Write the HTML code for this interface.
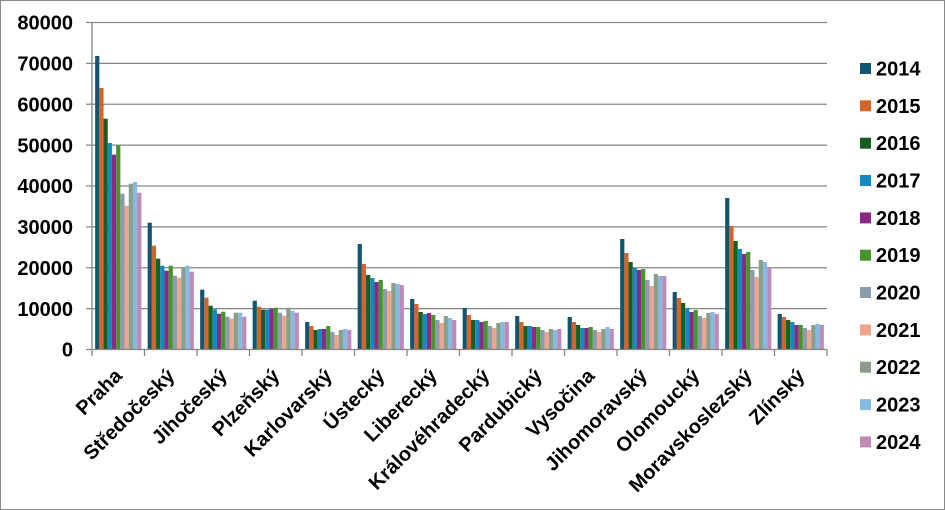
<!DOCTYPE html>
<html>
<head>
<meta charset="utf-8">
<style>
  html,body{margin:0;padding:0;background:#fff;}
  svg{display:block;}
  text{font-family:"Liberation Sans",Arial,sans-serif;font-weight:bold;fill:#000;}
  .c0{fill:#135470}.c1{fill:#d2642c}.c2{fill:#185e22}.c3{fill:#108bc2}
  .c4{fill:#8a2a84}.c5{fill:#46952a}.c6{fill:#8a9cad}.c7{fill:#eea48d}
  .c8{fill:#8a9e8a}.c9{fill:#85bbe0}.c10{fill:#bf8ab8}
</style>
</head>
<body>
<svg width="945" height="510" viewBox="0 0 945 510" xmlns="http://www.w3.org/2000/svg">
  <rect x="0.5" y="0.5" width="944" height="509" fill="#fff" stroke="#888" stroke-width="1"/>

  <!-- gridlines -->
  <g stroke="#868686" stroke-width="1.3">
    <line x1="86" y1="22.5" x2="827" y2="22.5"/>
    <line x1="86" y1="63.4" x2="827" y2="63.4"/>
    <line x1="86" y1="104.25" x2="827" y2="104.25"/>
    <line x1="86" y1="145.1" x2="827" y2="145.1"/>
    <line x1="86" y1="186" x2="827" y2="186"/>
    <line x1="86" y1="226.9" x2="827" y2="226.9"/>
    <line x1="86" y1="267.75" x2="827" y2="267.75"/>
    <line x1="86" y1="308.6" x2="827" y2="308.6"/>
  </g>

  <!-- y labels -->
  <g font-size="20" text-anchor="end">
    <text x="73" y="29.7">80000</text>
    <text x="73" y="70.6">70000</text>
    <text x="73" y="111.4">60000</text>
    <text x="73" y="152.3">50000</text>
    <text x="73" y="193.2">40000</text>
    <text x="73" y="234.1">30000</text>
    <text x="73" y="274.9">20000</text>
    <text x="73" y="315.8">10000</text>
    <text x="73" y="356.7">0</text>
  </g>

  <!-- bars -->
  <g transform="translate(95.15,349.5) scale(1,-1)">
    <rect class="c0" x="0" y="0" width="4.2" height="293.5"/>
    <rect class="c1" x="4.2" y="0" width="4.2" height="261.5"/>
    <rect class="c2" x="8.4" y="0" width="4.2" height="230.8"/>
    <rect class="c3" x="12.6" y="0" width="4.2" height="206.5"/>
    <rect class="c4" x="16.8" y="0" width="4.2" height="194.8"/>
    <rect class="c5" x="21" y="0" width="4.2" height="204.2"/>
    <rect class="c6" x="25.2" y="0" width="4.2" height="155.8"/>
    <rect class="c7" x="29.4" y="0" width="4.2" height="143.8"/>
    <rect class="c8" x="33.6" y="0" width="4.2" height="165.8"/>
    <rect class="c9" x="37.8" y="0" width="4.2" height="167.5"/>
    <rect class="c10" x="42" y="0" width="4.2" height="156.8"/>
  </g>
  <g transform="translate(147.65,349.5) scale(1,-1)">
    <rect class="c0" x="0" y="0" width="4.2" height="126.8"/>
    <rect class="c1" x="4.2" y="0" width="4.2" height="103.8"/>
    <rect class="c2" x="8.4" y="0" width="4.2" height="90.8"/>
    <rect class="c3" x="12.6" y="0" width="4.2" height="83.8"/>
    <rect class="c4" x="16.8" y="0" width="4.2" height="78.8"/>
    <rect class="c5" x="21" y="0" width="4.2" height="83.8"/>
    <rect class="c6" x="25.2" y="0" width="4.2" height="73.8"/>
    <rect class="c7" x="29.4" y="0" width="4.2" height="71.8"/>
    <rect class="c8" x="33.6" y="0" width="4.2" height="81.8"/>
    <rect class="c9" x="37.8" y="0" width="4.2" height="83.8"/>
    <rect class="c10" x="42" y="0" width="4.2" height="77.8"/>
  </g>
  <g transform="translate(200.15,349.5) scale(1,-1)">
    <rect class="c0" x="0" y="0" width="4.2" height="59.8"/>
    <rect class="c1" x="4.2" y="0" width="4.2" height="51.8"/>
    <rect class="c2" x="8.4" y="0" width="4.2" height="43.8"/>
    <rect class="c3" x="12.6" y="0" width="4.2" height="40.2"/>
    <rect class="c4" x="16.8" y="0" width="4.2" height="35.8"/>
    <rect class="c5" x="21" y="0" width="4.2" height="37.8"/>
    <rect class="c6" x="25.2" y="0" width="4.2" height="32.8"/>
    <rect class="c7" x="29.4" y="0" width="4.2" height="30.8"/>
    <rect class="c8" x="33.6" y="0" width="4.2" height="36.8"/>
    <rect class="c9" x="37.8" y="0" width="4.2" height="36.8"/>
    <rect class="c10" x="42" y="0" width="4.2" height="32.8"/>
  </g>
  <g transform="translate(252.65,349.5) scale(1,-1)">
    <rect class="c0" x="0" y="0" width="4.2" height="48.8"/>
    <rect class="c1" x="4.2" y="0" width="4.2" height="42.8"/>
    <rect class="c2" x="8.4" y="0" width="4.2" height="39.8"/>
    <rect class="c3" x="12.6" y="0" width="4.2" height="39.8"/>
    <rect class="c4" x="16.8" y="0" width="4.2" height="40.8"/>
    <rect class="c5" x="21" y="0" width="4.2" height="41.8"/>
    <rect class="c6" x="25.2" y="0" width="4.2" height="36.8"/>
    <rect class="c7" x="29.4" y="0" width="4.2" height="33.8"/>
    <rect class="c8" x="33.6" y="0" width="4.2" height="41.8"/>
    <rect class="c9" x="37.8" y="0" width="4.2" height="38.8"/>
    <rect class="c10" x="42" y="0" width="4.2" height="36.8"/>
  </g>
  <g transform="translate(305.15,349.5) scale(1,-1)">
    <rect class="c0" x="0" y="0" width="4.2" height="27.5"/>
    <rect class="c1" x="4.2" y="0" width="4.2" height="23.5"/>
    <rect class="c2" x="8.4" y="0" width="4.2" height="19.5"/>
    <rect class="c3" x="12.6" y="0" width="4.2" height="20.5"/>
    <rect class="c4" x="16.8" y="0" width="4.2" height="20.5"/>
    <rect class="c5" x="21" y="0" width="4.2" height="23.5"/>
    <rect class="c6" x="25.2" y="0" width="4.2" height="17.5"/>
    <rect class="c7" x="29.4" y="0" width="4.2" height="14.5"/>
    <rect class="c8" x="33.6" y="0" width="4.2" height="19.5"/>
    <rect class="c9" x="37.8" y="0" width="4.2" height="20.5"/>
    <rect class="c10" x="42" y="0" width="4.2" height="19.5"/>
  </g>
  <g transform="translate(357.65,349.5) scale(1,-1)">
    <rect class="c0" x="0" y="0" width="4.2" height="105.5"/>
    <rect class="c1" x="4.2" y="0" width="4.2" height="85.5"/>
    <rect class="c2" x="8.4" y="0" width="4.2" height="74.5"/>
    <rect class="c3" x="12.6" y="0" width="4.2" height="71.5"/>
    <rect class="c4" x="16.8" y="0" width="4.2" height="67.5"/>
    <rect class="c5" x="21" y="0" width="4.2" height="69.5"/>
    <rect class="c6" x="25.2" y="0" width="4.2" height="60.5"/>
    <rect class="c7" x="29.4" y="0" width="4.2" height="58.5"/>
    <rect class="c8" x="33.6" y="0" width="4.2" height="66.5"/>
    <rect class="c9" x="37.8" y="0" width="4.2" height="65.5"/>
    <rect class="c10" x="42" y="0" width="4.2" height="64.5"/>
  </g>
  <g transform="translate(410.15,349.5) scale(1,-1)">
    <rect class="c0" x="0" y="0" width="4.2" height="50.5"/>
    <rect class="c1" x="4.2" y="0" width="4.2" height="45.5"/>
    <rect class="c2" x="8.4" y="0" width="4.2" height="37.5"/>
    <rect class="c3" x="12.6" y="0" width="4.2" height="35.5"/>
    <rect class="c4" x="16.8" y="0" width="4.2" height="36.5"/>
    <rect class="c5" x="21" y="0" width="4.2" height="34.5"/>
    <rect class="c6" x="25.2" y="0" width="4.2" height="29.5"/>
    <rect class="c7" x="29.4" y="0" width="4.2" height="26.5"/>
    <rect class="c8" x="33.6" y="0" width="4.2" height="33.5"/>
    <rect class="c9" x="37.8" y="0" width="4.2" height="31.5"/>
    <rect class="c10" x="42" y="0" width="4.2" height="29.5"/>
  </g>
  <g transform="translate(462.65,349.5) scale(1,-1)">
    <rect class="c0" x="0" y="0" width="4.2" height="41.5"/>
    <rect class="c1" x="4.2" y="0" width="4.2" height="34.5"/>
    <rect class="c2" x="8.4" y="0" width="4.2" height="29.5"/>
    <rect class="c3" x="12.6" y="0" width="4.2" height="29.5"/>
    <rect class="c4" x="16.8" y="0" width="4.2" height="27.5"/>
    <rect class="c5" x="21" y="0" width="4.2" height="28.5"/>
    <rect class="c6" x="25.2" y="0" width="4.2" height="23.5"/>
    <rect class="c7" x="29.4" y="0" width="4.2" height="21.5"/>
    <rect class="c8" x="33.6" y="0" width="4.2" height="26.5"/>
    <rect class="c9" x="37.8" y="0" width="4.2" height="27.5"/>
    <rect class="c10" x="42" y="0" width="4.2" height="27.5"/>
  </g>
  <g transform="translate(515.15,349.5) scale(1,-1)">
    <rect class="c0" x="0" y="0" width="4.2" height="33.5"/>
    <rect class="c1" x="4.2" y="0" width="4.2" height="27.5"/>
    <rect class="c2" x="8.4" y="0" width="4.2" height="23.5"/>
    <rect class="c3" x="12.6" y="0" width="4.2" height="23.5"/>
    <rect class="c4" x="16.8" y="0" width="4.2" height="22.5"/>
    <rect class="c5" x="21" y="0" width="4.2" height="22.5"/>
    <rect class="c6" x="25.2" y="0" width="4.2" height="19.5"/>
    <rect class="c7" x="29.4" y="0" width="4.2" height="17.5"/>
    <rect class="c8" x="33.6" y="0" width="4.2" height="20.5"/>
    <rect class="c9" x="37.8" y="0" width="4.2" height="19.5"/>
    <rect class="c10" x="42" y="0" width="4.2" height="20.5"/>
  </g>
  <g transform="translate(567.65,349.5) scale(1,-1)">
    <rect class="c0" x="0" y="0" width="4.2" height="32.5"/>
    <rect class="c1" x="4.2" y="0" width="4.2" height="27.5"/>
    <rect class="c2" x="8.4" y="0" width="4.2" height="24.5"/>
    <rect class="c3" x="12.6" y="0" width="4.2" height="21.5"/>
    <rect class="c4" x="16.8" y="0" width="4.2" height="21.5"/>
    <rect class="c5" x="21" y="0" width="4.2" height="22.5"/>
    <rect class="c6" x="25.2" y="0" width="4.2" height="19.5"/>
    <rect class="c7" x="29.4" y="0" width="4.2" height="17.5"/>
    <rect class="c8" x="33.6" y="0" width="4.2" height="20.5"/>
    <rect class="c9" x="37.8" y="0" width="4.2" height="22.5"/>
    <rect class="c10" x="42" y="0" width="4.2" height="20.5"/>
  </g>
  <g transform="translate(620.15,349.5) scale(1,-1)">
    <rect class="c0" x="0" y="0" width="4.2" height="110.5"/>
    <rect class="c1" x="4.2" y="0" width="4.2" height="96.5"/>
    <rect class="c2" x="8.4" y="0" width="4.2" height="87.5"/>
    <rect class="c3" x="12.6" y="0" width="4.2" height="81.5"/>
    <rect class="c4" x="16.8" y="0" width="4.2" height="79.5"/>
    <rect class="c5" x="21" y="0" width="4.2" height="80.5"/>
    <rect class="c6" x="25.2" y="0" width="4.2" height="69.5"/>
    <rect class="c7" x="29.4" y="0" width="4.2" height="63.5"/>
    <rect class="c8" x="33.6" y="0" width="4.2" height="75.5"/>
    <rect class="c9" x="37.8" y="0" width="4.2" height="73.5"/>
    <rect class="c10" x="42" y="0" width="4.2" height="73.5"/>
  </g>
  <g transform="translate(672.65,349.5) scale(1,-1)">
    <rect class="c0" x="0" y="0" width="4.2" height="57.5"/>
    <rect class="c1" x="4.2" y="0" width="4.2" height="51.5"/>
    <rect class="c2" x="8.4" y="0" width="4.2" height="46.5"/>
    <rect class="c3" x="12.6" y="0" width="4.2" height="41.5"/>
    <rect class="c4" x="16.8" y="0" width="4.2" height="37.5"/>
    <rect class="c5" x="21" y="0" width="4.2" height="39.5"/>
    <rect class="c6" x="25.2" y="0" width="4.2" height="33.5"/>
    <rect class="c7" x="29.4" y="0" width="4.2" height="31.5"/>
    <rect class="c8" x="33.6" y="0" width="4.2" height="36.5"/>
    <rect class="c9" x="37.8" y="0" width="4.2" height="37.5"/>
    <rect class="c10" x="42" y="0" width="4.2" height="35.5"/>
  </g>
  <g transform="translate(725.15,349.5) scale(1,-1)">
    <rect class="c0" x="0" y="0" width="4.2" height="151.5"/>
    <rect class="c1" x="4.2" y="0" width="4.2" height="123.5"/>
    <rect class="c2" x="8.4" y="0" width="4.2" height="108.5"/>
    <rect class="c3" x="12.6" y="0" width="4.2" height="100.5"/>
    <rect class="c4" x="16.8" y="0" width="4.2" height="95.5"/>
    <rect class="c5" x="21" y="0" width="4.2" height="97.5"/>
    <rect class="c6" x="25.2" y="0" width="4.2" height="79.5"/>
    <rect class="c7" x="29.4" y="0" width="4.2" height="72.5"/>
    <rect class="c8" x="33.6" y="0" width="4.2" height="89.5"/>
    <rect class="c9" x="37.8" y="0" width="4.2" height="87.5"/>
    <rect class="c10" x="42" y="0" width="4.2" height="82.5"/>
  </g>
  <g transform="translate(777.65,349.5) scale(1,-1)">
    <rect class="c0" x="0" y="0" width="4.2" height="35.5"/>
    <rect class="c1" x="4.2" y="0" width="4.2" height="32.5"/>
    <rect class="c2" x="8.4" y="0" width="4.2" height="29.5"/>
    <rect class="c3" x="12.6" y="0" width="4.2" height="27.5"/>
    <rect class="c4" x="16.8" y="0" width="4.2" height="24.5"/>
    <rect class="c5" x="21" y="0" width="4.2" height="24.5"/>
    <rect class="c6" x="25.2" y="0" width="4.2" height="21.5"/>
    <rect class="c7" x="29.4" y="0" width="4.2" height="19.5"/>
    <rect class="c8" x="33.6" y="0" width="4.2" height="24.5"/>
    <rect class="c9" x="37.8" y="0" width="4.2" height="25.5"/>
    <rect class="c10" x="42" y="0" width="4.2" height="24.5"/>
  </g>

  <!-- axes -->
  <g stroke="#868686" stroke-width="1.3">
    <line x1="86" y1="349.5" x2="827" y2="349.5"/>
    <line x1="92" y1="22.5" x2="92" y2="356"/>
    <line x1="144.5" y1="349.5" x2="144.5" y2="356"/>
    <line x1="197" y1="349.5" x2="197" y2="356"/>
    <line x1="249.5" y1="349.5" x2="249.5" y2="356"/>
    <line x1="302" y1="349.5" x2="302" y2="356"/>
    <line x1="354.5" y1="349.5" x2="354.5" y2="356"/>
    <line x1="407" y1="349.5" x2="407" y2="356"/>
    <line x1="459.5" y1="349.5" x2="459.5" y2="356"/>
    <line x1="512" y1="349.5" x2="512" y2="356"/>
    <line x1="564.5" y1="349.5" x2="564.5" y2="356"/>
    <line x1="617" y1="349.5" x2="617" y2="356"/>
    <line x1="669.5" y1="349.5" x2="669.5" y2="356"/>
    <line x1="722" y1="349.5" x2="722" y2="356"/>
    <line x1="774.5" y1="349.5" x2="774.5" y2="356"/>
    <line x1="827" y1="349.5" x2="827" y2="356"/>
  </g>

  <!-- x labels -->
  <g font-size="20" text-anchor="end">
    <text transform="translate(123.3,377) rotate(-45)">Praha</text>
    <text transform="translate(175.8,377) rotate(-45)">Středočeský</text>
    <text transform="translate(228.3,377) rotate(-45)">Jihočeský</text>
    <text transform="translate(280.8,377) rotate(-45)">Plzeňský</text>
    <text transform="translate(333.3,377) rotate(-45)">Karlovarský</text>
    <text transform="translate(385.8,377) rotate(-45)">Ústecký</text>
    <text transform="translate(438.3,377) rotate(-45)">Liberecký</text>
    <text transform="translate(490.8,377) rotate(-45)">Královéhradecký</text>
    <text transform="translate(543.3,377) rotate(-45)">Pardubický</text>
    <text transform="translate(595.8,377) rotate(-45)">Vysočina</text>
    <text transform="translate(648.3,377) rotate(-45)">Jihomoravský</text>
    <text transform="translate(700.8,377) rotate(-45)">Olomoucký</text>
    <text transform="translate(753.3,377) rotate(-45)">Moravskoslezský</text>
    <text transform="translate(805.8,377) rotate(-45)">Zlínský</text>
  </g>

  <!-- legend -->
  <g>
    <rect class="c0" x="860" y="63" width="11" height="11"/>
    <rect class="c1" x="860" y="100.3" width="11" height="11"/>
    <rect class="c2" x="860" y="137.7" width="11" height="11"/>
    <rect class="c3" x="860" y="175" width="11" height="11"/>
    <rect class="c4" x="860" y="212.4" width="11" height="11"/>
    <rect class="c5" x="860" y="249.7" width="11" height="11"/>
    <rect class="c6" x="860" y="287" width="11" height="11"/>
    <rect class="c7" x="860" y="324.4" width="11" height="11"/>
    <rect class="c8" x="860" y="361.7" width="11" height="11"/>
    <rect class="c9" x="860" y="399.1" width="11" height="11"/>
    <rect class="c10" x="860" y="436.4" width="11" height="11"/>
  </g>
  <g font-size="20">
    <text x="876" y="75.5">2014</text>
    <text x="876" y="112.8">2015</text>
    <text x="876" y="150.2">2016</text>
    <text x="876" y="187.5">2017</text>
    <text x="876" y="224.9">2018</text>
    <text x="876" y="262.2">2019</text>
    <text x="876" y="299.5">2020</text>
    <text x="876" y="336.9">2021</text>
    <text x="876" y="374.2">2022</text>
    <text x="876" y="411.6">2023</text>
    <text x="876" y="448.9">2024</text>
  </g>
</svg>
</body>
</html>
